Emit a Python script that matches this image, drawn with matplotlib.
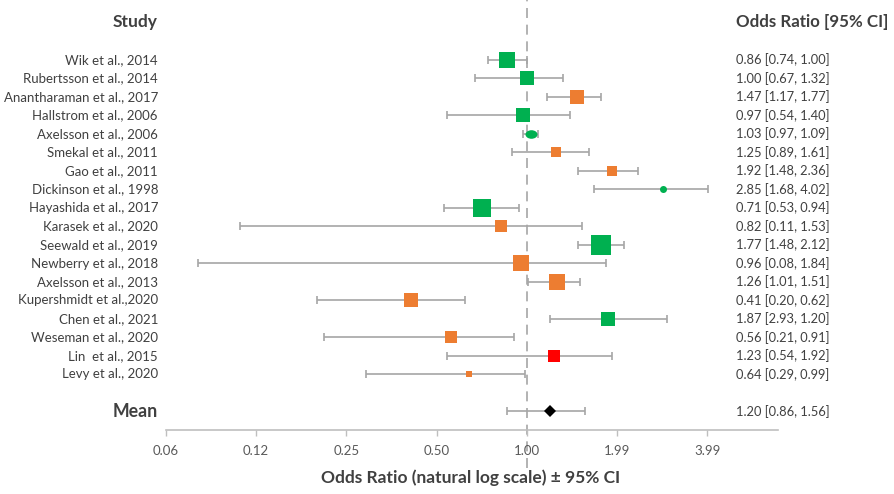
import numpy as np
import matplotlib.pyplot as plt
from matplotlib.path import Path
from matplotlib.transforms import blended_transform_factory, Affine2D

plt.rcParams['font.family'] = ['Lato', 'DejaVu Sans']

# data
studies = ["Wik et al., 2014", "Rubertsson et al., 2014", "Anantharaman et al., 2017",
           "Hallstrom et al., 2006", "Axelsson et al., 2006", "Smekal et al., 2011",
           "Gao et al., 2011", "Dickinson et al., 1998", "Hayashida et al., 2017",
           "Karasek et al., 2020", "Seewald et al., 2019", "Newberry et al., 2018",
           "Axelsson et al., 2013", "Kupershmidt et al.,2020", "Chen et al., 2021",
           "Weseman et al., 2020", "Lin  et al., 2015", "Levy et al., 2020"]
odds = [0.86, 1.00, 1.47, 0.97, 1.03, 1.25, 1.92, 2.85, 0.71,
        0.82, 1.77, 0.96, 1.26, 0.41, 1.87, 0.56, 1.23, 0.64]
ci_lo = [0.74, 0.67, 1.17, 0.54, 0.97, 0.89, 1.48, 1.68, 0.53,
         0.11, 1.48, 0.08, 1.01, 0.20, 2.93, 0.21, 0.54, 0.29]
ci_hi = [1.00, 1.32, 1.77, 1.40, 1.09, 1.61, 2.36, 4.02, 0.94,
         1.53, 2.12, 1.84, 1.51, 0.62, 1.20, 0.91, 1.92, 0.99]
groups = ["g", "g", "o", "g", "g", "o", "o", "g", "g",
          "o", "g", "o", "o", "o", "g", "o", "r", "o"]
weights_px = [16, 14.5, 13.5, 13.5, 12, 10, 10, 7, 17.5,
              11.5, 19.5, 16.5, 15.5, 14.5, 13.5, 12.5, 11.5, 6.5]
mean_or, mean_lo, mean_hi = 1.20, 0.86, 1.56

tick_vals = [0.0625, 0.125, 0.25, 0.5, 1.0, 2.0, 4.0]
tick_labels = ["0.06", "0.12", "0.25", "0.50", "1.00", "1.99", "3.99"]

colors = {"g": "#00B050", "o": "#ED7D31", "r": "#FF0000"}
txt = "#404040"
W, H = 894, 494

fig = plt.figure(figsize=(W / 100, H / 100), dpi=100)
ax = fig.add_axes([166 / W, (H - 430) / H, (778 - 166) / W, 430 / H])
ax.set_xscale("log", base=2)
ax.set_xlim(0.0625, 6.9)
row_px = 18.5
ax.set_ylim((430 - 60) / row_px, -60 / row_px)

for s in ["top", "right", "left"]:
    ax.spines[s].set_visible(False)
ax.spines["bottom"].set_color("#BFBFBF")
ax.spines["bottom"].set_linewidth(1.2)
ax.set_yticks([])
ax.set_xticks(tick_vals)
ax.set_xticklabels(tick_labels)
ax.xaxis.set_minor_locator(plt.NullLocator())
ax.tick_params(axis="x", colors="#BFBFBF", length=4, width=1, labelcolor="#595959",
               labelsize=9.5, pad=7)

ax.axvline(1.0, ymin=-0.088, ymax=1, color="#A6A6A6", lw=1.2, ls=(0, (6, 4)),
           clip_on=False, zorder=1)

ellipse = Path.unit_circle().transformed(Affine2D().scale(1.4, 1.0))

rows = np.arange(len(studies))
for i in rows:
    ax.errorbar([odds[i]], [i], xerr=[[odds[i] - min(ci_lo[i], ci_hi[i])],
                                     [max(ci_lo[i], ci_hi[i]) - odds[i]]],
                fmt="none", ecolor="#A6A6A6", elinewidth=1.2, capsize=3,
                capthick=1.2, zorder=2)
    if i == 4:
        mk = ellipse
    elif i == 7:
        mk = "o"
    else:
        mk = "s"
    ax.plot(odds[i], i, marker=mk, ms=weights_px[i] * 0.72, color=colors[groups[i]],
            mew=0, ls="none", zorder=3)

mean_row = len(studies) + 1
ax.errorbar([mean_or], [mean_row], xerr=[[mean_or - mean_lo], [mean_hi - mean_or]],
            fmt="none", ecolor="#A6A6A6", elinewidth=1.2, capsize=3, capthick=1.2, zorder=2)
ax.plot(mean_or, mean_row, marker="D", ms=6.2, color="black", mew=0, zorder=3)

tl = blended_transform_factory(fig.transFigure, ax.transData)
for i in rows:
    ax.text(158 / W, i, studies[i], transform=tl, ha="right", va="center",
            fontsize=9.5, color=txt)
    lo, hi = ci_lo[i], ci_hi[i]
    ax.text(736 / W, i, f"{odds[i]:.2f} [{lo:.2f}, {hi:.2f}]", transform=tl,
            ha="left", va="center", fontsize=9.3, color=txt)
ax.text(158 / W, mean_row, "Mean", transform=tl, ha="right", va="center",
        fontsize=12.8, fontweight="bold", color=txt)
ax.text(736 / W, mean_row, f"{mean_or:.2f} [{mean_lo:.2f}, {mean_hi:.2f}]",
        transform=tl, ha="left", va="center", fontsize=9.3, color=txt)

fig.text(158 / W, 1 - 22 / H, "Study", ha="right", va="center", fontsize=12.5,
         fontweight="bold", color=txt)
fig.text(736 / W, 1 - 22 / H, "Odds Ratio [95% CI]", ha="left", va="center",
         fontsize=12.2, fontweight="bold", color=txt)
fig.text(471 / W, 1 - 478 / H, "Odds Ratio (natural log scale) \u00b1 95% CI",
         ha="center", va="center", fontsize=12.5, fontweight="bold", color=txt)

fig.savefig("out.png", dpi=100)
